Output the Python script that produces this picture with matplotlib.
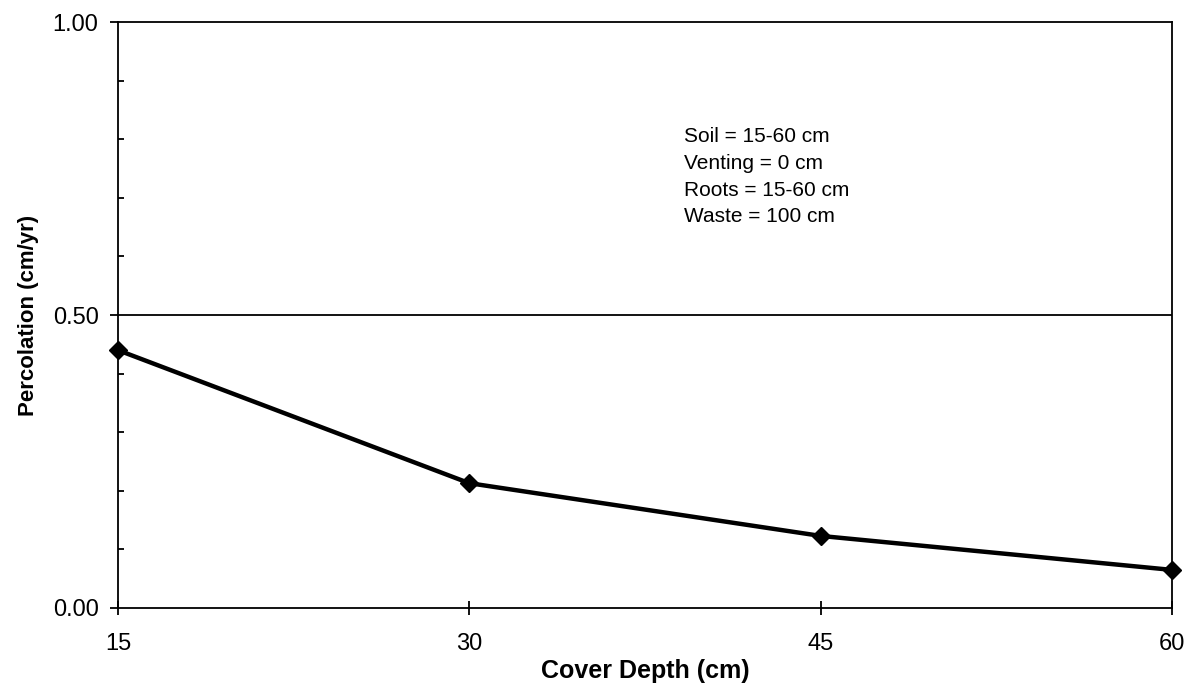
import matplotlib
matplotlib.use("Agg")
import matplotlib.pyplot as plt
from matplotlib.ticker import MultipleLocator

# 数据
cover_depth = [15, 30, 45, 60]
percolation = [0.44, 0.213, 0.123, 0.065]
x_ticks = [15, 30, 45, 60]
y_ticks = [0.0, 0.5, 1.0]
note_lines = ["Soil = 15-60 cm", "Venting = 0 cm", "Roots = 15-60 cm", "Waste = 100 cm"]

plt.rcParams["font.family"] = ["Liberation Sans", "DejaVu Sans"]

fig = plt.figure(figsize=(11.88, 6.97), dpi=100)
ax = fig.add_axes([0.0993, 0.1277, 0.8872, 0.8407])

ax.plot(cover_depth, percolation, color="black", linewidth=3.2,
        marker="D", markersize=9.5, zorder=5, clip_on=False)

ax.axhline(0.5, color="black", linewidth=1.3)

ax.set_xlim(15, 60)
ax.set_ylim(0, 1.0)
ax.set_xticks(x_ticks)
ax.set_xticklabels([str(v) for v in x_ticks], fontsize=17)
ax.set_yticks(y_ticks)
ax.set_yticklabels([f"{v:.2f}" for v in y_ticks], fontsize=17)
ax.yaxis.set_minor_locator(MultipleLocator(0.1))
ax.tick_params(axis="y", which="major", direction="out", length=6, width=1.3, pad=8)
ax.tick_params(axis="y", which="minor", direction="in", length=4.5, width=1.3)
ax.tick_params(axis="x", which="major", direction="inout", length=10, width=1.3, pad=13)

for s in ax.spines.values():
    s.set_linewidth(1.3)

ax.set_xlabel("Cover Depth (cm)", fontsize=18, fontweight="bold", labelpad=3)
ax.set_ylabel("Percolation (cm/yr)", fontsize=16, fontweight="bold", labelpad=10)

ax.text(0.5375, 0.821, "\n".join(note_lines), transform=ax.transAxes,
        fontsize=15, va="top", ha="left", linespacing=1.52)

fig.savefig("out.png", dpi=100)
plt.close(fig)
